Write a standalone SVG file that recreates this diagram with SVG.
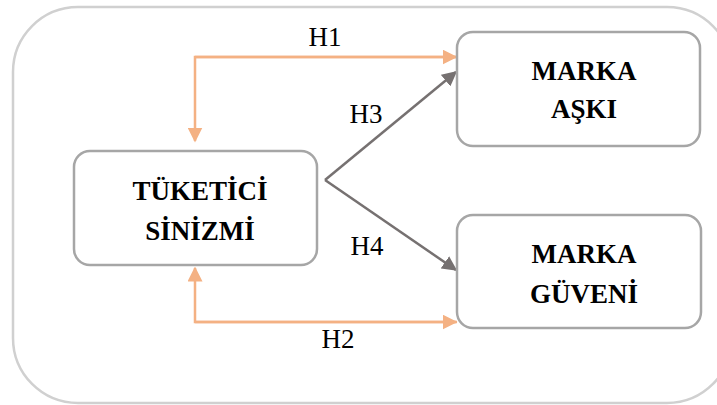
<svg xmlns="http://www.w3.org/2000/svg" width="717" height="405" viewBox="0 0 717 405">
<defs>
<style>
.node{fill:#fff;stroke:#A6A6A6;stroke-width:2.5}
.lbl{font-family:"Liberation Serif",serif;font-weight:bold;font-size:27px;fill:#000;text-anchor:middle}
.h{font-family:"Liberation Serif",serif;font-size:27px;fill:#000;text-anchor:middle}
.or{fill:none;stroke:#F4B183;stroke-width:2.5}
.gr{fill:none;stroke:#767171;stroke-width:2.5}
</style>
<marker id="ao" viewBox="0 0 10 10" refX="9" refY="5" markerWidth="6" markerHeight="6" markerUnits="strokeWidth" orient="auto"><path d="M0,0L10,5L0,10z" fill="#F4B183"/></marker>
<marker id="ag" viewBox="0 0 10 10" refX="9" refY="5" markerWidth="6" markerHeight="6" markerUnits="strokeWidth" orient="auto"><path d="M0,0L10,5L0,10z" fill="#767171"/></marker>
</defs>
<rect x="0" y="0" width="717" height="405" fill="#fff"/>
<rect x="13" y="7" width="719" height="396" rx="65" ry="65" fill="none" stroke="#D0D0D0" stroke-width="2.5"/>
<g id="connectors">
<path class="or" d="M457,57H195V141" marker-end="url(#ao)"/>
<path class="or" d="M195,57H456" marker-end="url(#ao)"/>
<path class="or" d="M457,322H195V268" marker-end="url(#ao)"/>
<path class="or" d="M195,322H456" marker-end="url(#ao)"/>
<path class="gr" d="M325,180L456,72" marker-end="url(#ag)"/>
<path class="gr" d="M325,180L456,270" marker-end="url(#ag)"/>
<text class="h" x="325" y="46">H1</text>
<text class="h" x="366" y="123">H3</text>
<text class="h" x="367" y="255">H4</text>
<text class="h" x="338" y="348">H2</text>
</g>
<g id="tuketici">
<rect class="node" x="74" y="151" width="243" height="114" rx="16"/>
<text class="lbl" x="200" y="200">TÜKETİCİ</text>
<text class="lbl" x="200" y="240">SİNİZMİ</text>
</g>
<g id="ask">
<rect class="node" x="457" y="32" width="243" height="114" rx="16"/>
<text class="lbl" x="584" y="80">MARKA</text>
<text class="lbl" x="584" y="118">AŞKI</text>
</g>
<g id="guven">
<rect class="node" x="457" y="215" width="244" height="113" rx="16"/>
<text class="lbl" x="584" y="263">MARKA</text>
<text class="lbl" x="584" y="303">GÜVENİ</text>
</g>
</svg>
